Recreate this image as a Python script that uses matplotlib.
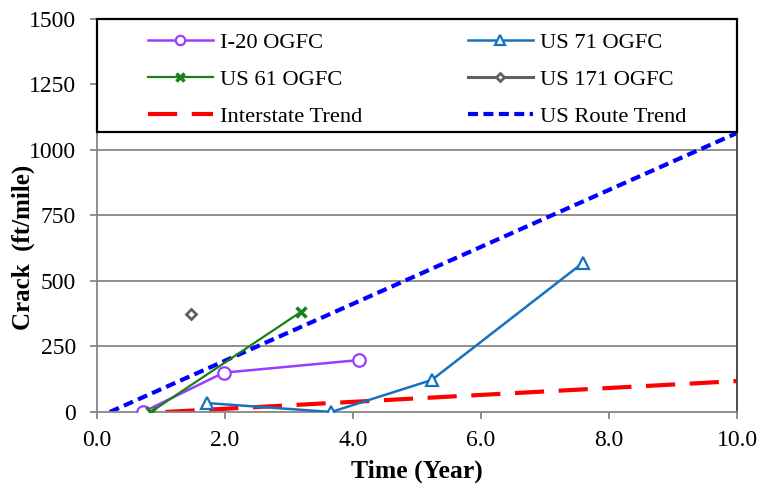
import matplotlib.pyplot as plt
from matplotlib.patches import Rectangle

plt.rcParams['font.family'] = ['Liberation Serif', 'DejaVu Serif']

# crack length (ft/mile) against pavement age (years)
i20_t = [0.72, 1.98, 4.09]
i20_c = [0, 150, 198]
us71_t = [1.72, 3.66, 5.23, 7.59]
us71_c = [34, 0, 122, 569]
us61_t = [0.84, 3.18]
us61_c = [0, 381]
us171_t = [1.47]
us171_c = [374]
interstate_t = [1.07, 10.0]
interstate_c = [0, 118]
usroute_t = [0.2, 10.0]
usroute_c = [0, 1065]

xticks = [0, 2, 4, 6, 8, 10]
yticks = [0, 250, 500, 750, 1000, 1250, 1500]

fig = plt.figure(figsize=(7.62, 4.96), dpi=100)
ax = fig.add_axes([0.1273, 0.1694, 0.8399, 0.7923])

grid_c = '#868686'
ax.set_xlim(0, 10)
ax.set_ylim(0, 1500)
for y in yticks[1:-1]:
    ax.axhline(y, color=grid_c, lw=1.3, zorder=0)

l1, = ax.plot(i20_t, i20_c, color='#9B3DFF', lw=1.8, marker='o', ms=9,
              mfc='white', mec='#9B3DFF', mew=1.6, label='I-20 OGFC', zorder=3)
l2, = ax.plot(us71_t, us71_c, color='#1672C0', lw=1.8, marker='^', ms=9,
              mfc='white', mec='#1672C0', mew=1.6, label='US 71 OGFC', zorder=3)
l3, = ax.plot(us61_t, us61_c, color='#1A8019', lw=1.6, marker='x', ms=7,
              mew=2.5, label='US 61 OGFC', zorder=3)
l4, = ax.plot(us171_t, us171_c, color='#606060', lw=2.2, marker='D', ms=5.5,
              mfc='white', mec='#606060', mew=2.0, label='US 171 OGFC', zorder=3)
l5, = ax.plot(interstate_t, interstate_c, color='#FF0000', lw=3, dashes=(7, 3.5),
              label='Interstate Trend', zorder=2)
l6, = ax.plot(usroute_t, usroute_c, color='#0000FF', lw=3, dashes=(2.4, 1.3),
              label='US Route Trend', zorder=2)

# legend box sits over the top of the plot area
ax.add_patch(Rectangle((0, 1069), 10, 431, facecolor='white', edgecolor='black',
                       lw=1.6, zorder=4, clip_on=False))
leg = ax.legend(handles=[l1, l3, l5, l2, l4, l6], ncol=2, loc='center',
                bbox_to_anchor=(0.5, 1268 / 1500),
                frameon=False, fontsize=16.2, handlelength=2.9, handletextpad=0.3,
                columnspacing=4.7, labelspacing=0.72, markerscale=0.75,
                borderpad=0)
leg.set_zorder(5)

ax.set_xticks(xticks)
ax.set_xticklabels(['%.1f' % v for v in xticks])
ax.set_yticks(yticks)
ax.tick_params(axis='both', direction='out', length=5, width=1.3, color=grid_c,
               labelsize=17, pad=10)
ax.tick_params(axis='x', pad=8)
ax.spines['left'].set_color(grid_c)
ax.spines['bottom'].set_color(grid_c)
ax.spines['left'].set_linewidth(1.3)
ax.spines['bottom'].set_linewidth(1.3)
ax.spines['right'].set_color('#404040')
ax.spines['right'].set_linewidth(1.3)
ax.spines['top'].set_visible(False)

ax.set_xlabel('Time (Year)', fontsize=18.5, fontweight='bold', labelpad=6)
ax.set_ylabel('Crack  (ft/mile)', fontsize=18, fontweight='bold')
ax.yaxis.set_label_coords(-0.097, 0.42)

fig.savefig('out.png', dpi=100)
